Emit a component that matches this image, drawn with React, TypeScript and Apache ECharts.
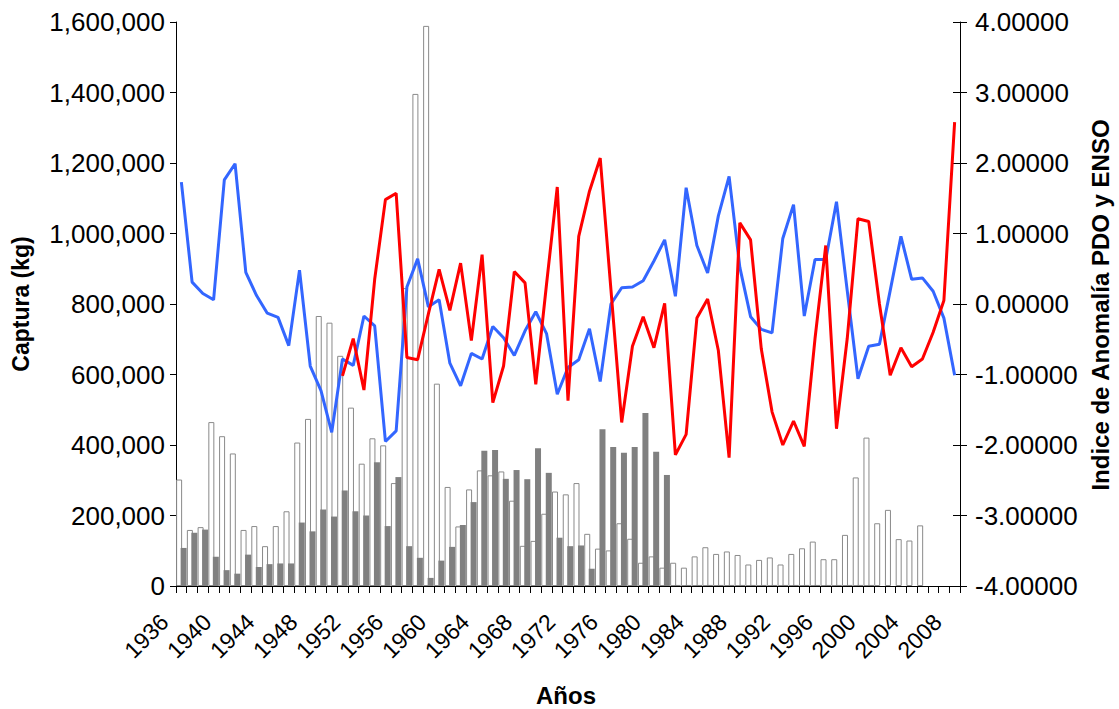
import React, { useEffect, useRef } from "react";
import * as echarts from "echarts";

const years: string[] = [
  "1936","1937","1938","1939","1940","1941","1942","1943","1944","1945",
  "1946","1947","1948","1949","1950","1951","1952","1953","1954","1955",
  "1956","1957","1958","1959","1960","1961","1962","1963","1964","1965",
  "1966","1967","1968","1969","1970","1971","1972","1973","1974","1975",
  "1976","1977","1978","1979","1980","1981","1982","1983","1984","1985",
  "1986","1987","1988","1989","1990","1991","1992","1993","1994","1995",
  "1996","1997","1998","1999","2000","2001","2002","2003","2004","2005",
  "2006","2007","2008"
];

// Captura (kg) - white bars
const capturaA: (number | null)[] = [
  302000, 159000, 167000, 465000, 425000, 376000, 159000, 170000, 113000, 170000, 212000, 407000, 474000,
  766000, 747000, 653000, 506000, 347000, 419000, 399000, 292000, 845000, 1396000, 1589000, 574000, 281000, 169000, 274000,
  328000, 314000, 325000, 242000, 114000, 128000, 205000, 268000, 260000, 292000, 148000, 106000, 101000, 178000, 134000, 66000, 84000, 52000, 66000, 52000, 84000,
  110000, 91000, 98000, 88000, 61000, 74000, 81000, 61000, 91000, 107000, 126000, 76000, 76000, 145000, 308000, 421000, 178000, 216000, 133000, 129000, 172000,
  null, null, null
];

// Captura (kg) - gray bars
const capturaB: (number | null)[] = [
  108000, 151000, 160000, 83000, 45000, 35000, 89000, 54000, 62000, 64000, 64000, 180000, 155000,
  217000, 197000, 271000, 212000, 200000, 351000, 170000, 309000, 113000, 80000, 23000, 72000, 111000, 173000, 238000,
  384000, 386000, 304000, 329000, 303000, 391000, 321000, 137000, 113000, 115000, 49000, 445000, 394000, 378000, 394000, 491000, 381000, 315000,
  3000, 3000, 3000, 3000, 3000, 3000, 3000, 3000, 3000, 3000, 3000, 3000, 3000, 3000, 3000, 3000, 3000, 3000, 3000,
  null, null, null, null, null, null, null, null
];

// PDO index (blue)
const pdo: number[] = [
  1.73, 0.31, 0.15, 0.06, 1.76, 1.99, 0.45, 0.12, -0.13, -0.19, -0.59, 0.48, -0.88, -1.23, -1.82, -0.78, -0.87, -0.17,
  -0.31, -1.95, -1.80, 0.24, 0.64, -0.04, 0.06, -0.84, -1.16, -0.70, -0.78, -0.32, -0.48, -0.73, -0.38, -0.11, -0.42, -1.28,
  -0.90, -0.79, -0.35, -1.10, 0.00, 0.23, 0.24, 0.33, 0.61, 0.91, 0.11, 1.65, 0.83, 0.44, 1.25, 1.81, 0.52, -0.18,
  -0.36, -0.41, 0.93, 1.41, -0.17, 0.63, 0.63, 1.45, 0.19, -1.06, -0.60, -0.57, 0.19, 0.96, 0.35, 0.37, 0.18, -0.20, -1.01
];

// ENSO index (red)
const enso: (number | null)[] = [
  null, null, null, null, null, null, null, null, null, null, null, null, null, null, null,
  -1.02, -0.49, -1.22, 0.35, 1.48, 1.57, -0.76, -0.79, -0.14, 0.49, -0.09, 0.58, -0.52, 0.70, -1.40, -0.88, 0.46, 0.30, -1.14, 0.28, 1.66,
  -1.37, 0.96, 1.60, 2.07, 0.20, -1.68, -0.60, -0.18, -0.62, 0.01, -2.14, -1.85, -0.20, 0.07, -0.66, -2.18, 1.15, 0.91, -0.64,
  -1.53, -2.00, -1.66, -2.02, -0.49, 0.83, -1.77, -0.49, 1.21, 1.17, 0.0, -1.01, -0.62, -0.89, -0.78, -0.40, 0.05, 2.58
];

const xAxisTitle = "Años";
const leftAxisTitle = "Captura (kg)";
const rightAxisTitle = "Indice de Anomalía PDO y ENSO";

const FONT = "'Liberation Sans', Arial, sans-serif";

export default function App() {
  const ref = useRef<HTMLDivElement>(null);
  useEffect(() => {
    if (!ref.current) return;
    document.documentElement.style.overflow = "hidden";
    document.body.style.overflow = "hidden";
    document.body.style.margin = "0";
    const chart = echarts.init(ref.current, undefined, { renderer: "svg" });
    const axisLineStyle = { color: "#000", width: 1 };
    const titleStyle = (text: string, size: number) => ({
      text,
      fontSize: size,
      fontWeight: "bold",
      fontFamily: FONT,
      fill: "#000",
      align: "center",
      verticalAlign: "middle",
    });
    chart.setOption({
      animation: false,
      backgroundColor: "#fff",
      textStyle: { fontFamily: FONT },
      grid: {
        left: 176,
        right: 159,
        top: 22,
        bottom: 123,
        containLabel: false,
        outerBoundsMode: "none",
      },
      graphic: [
        { type: "text", x: 566, y: 695, style: titleStyle(xAxisTitle, 24) },
        { type: "text", x: 21, y: 304, rotation: Math.PI / 2, style: titleStyle(leftAxisTitle, 23) },
        { type: "text", x: 1100, y: 305, rotation: Math.PI / 2, style: titleStyle(rightAxisTitle, 24) },
      ],
      xAxis: {
        type: "category",
        data: years,
        boundaryGap: true,
        axisLine: { show: true, lineStyle: axisLineStyle },
        axisTick: { show: true, interval: 0, length: 7, lineStyle: axisLineStyle },
        axisLabel: {
          interval: 3,
          rotate: 45,
          fontSize: 23,
          color: "#000",
          fontFamily: FONT,
          margin: 15,
          padding: [0, 24, 0, 0],
          hideOverlap: false,
        },
        splitLine: { show: false },
      },
      yAxis: [
        {
          type: "value",
          position: "left",
          min: 0,
          max: 1600000,
          interval: 200000,
          axisLine: { show: true, lineStyle: axisLineStyle },
          axisTick: { show: true, length: 6, lineStyle: axisLineStyle },
          axisLabel: {
            fontSize: 26,
            color: "#000",
            fontFamily: FONT,
            margin: 11,
            formatter: (v: number) => v.toLocaleString("en-US"),
          },
          splitLine: { show: false },
        },
        {
          type: "value",
          position: "right",
          min: -4,
          max: 4,
          interval: 1,
          axisLine: { show: true, lineStyle: axisLineStyle },
          axisTick: { show: true, length: 7, lineStyle: axisLineStyle },
          axisLabel: {
            fontSize: 26,
            color: "#000",
            fontFamily: FONT,
            margin: 15,
            formatter: (v: number) => v.toFixed(5),
          },
          splitLine: { show: false },
        },
        {
          type: "value",
          position: "right",
          min: -4,
          max: 4,
          interval: 1,
          axisLine: { show: false },
          axisTick: { show: true, inside: true, length: 7, lineStyle: axisLineStyle },
          axisLabel: { show: false },
          splitLine: { show: false },
        },
      ],
      series: [
        {
          name: "Captura A",
          type: "bar",
          yAxisIndex: 0,
          data: capturaA,
          barWidth: 6,
          barGap: "-25%",
          itemStyle: { color: "#ffffff", borderColor: "#8a8a8a", borderWidth: 1 },
        },
        {
          name: "Captura B",
          type: "bar",
          yAxisIndex: 0,
          data: capturaB,
          barWidth: 6,
          barGap: "-25%",
          itemStyle: { color: "#808080", borderWidth: 0 },
        },
        {
          name: "PDO",
          type: "line",
          yAxisIndex: 1,
          data: pdo,
          showSymbol: false,
          symbol: "none",
          lineStyle: { color: "#3366ff", width: 3 },
          itemStyle: { color: "#3366ff" },
        },
        {
          name: "ENSO",
          type: "line",
          yAxisIndex: 1,
          data: enso,
          showSymbol: false,
          symbol: "none",
          connectNulls: false,
          lineStyle: { color: "#ff0000", width: 3 },
          itemStyle: { color: "#ff0000" },
        },
      ],
    });
    return () => chart.dispose();
  }, []);
  return (
    <div
      ref={ref}
      style={{ position: "absolute", left: 0, top: 0, width: 1119, height: 709, overflow: "hidden" }}
    />
  );
}
